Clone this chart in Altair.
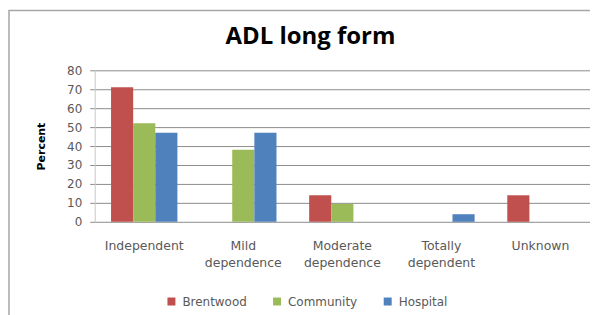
import altair as alt
import pandas as pd

categories = ["Independent", "Mild dependence", "Moderate dependence", "Totally dependent", "Unknown"]
series = ["Brentwood", "Community", "Hospital"]
brentwood = [71, 0, 14, 0, 14]
community = [52, 38, 9.5, 0, 0]
hospital = [47, 47, 0, 4, 0]
y_ticks = [0, 10, 20, 30, 40, 50, 60, 70, 80]
colors = ["#C0504D", "#9BBB59", "#4F81BD"]

rows = []
for s, vals in zip(series, [brentwood, community, hospital]):
    for c, v in zip(categories, vals):
        rows.append({"category": c, "series": s, "value": v})
df = pd.DataFrame(rows)

label_expr = "indexof(datum.label, ' ') > 0 ? split(datum.label, ' ') : datum.label"

bars = alt.Chart(df).mark_bar().encode(
    x=alt.X("category:N", sort=categories, title=None,
            scale=alt.Scale(paddingInner=0.33, paddingOuter=0.165),
            axis=alt.Axis(labelAngle=0, ticks=False, domain=False, labelPadding=18,
                          labelExpr=label_expr, labelFont="DejaVu Sans", labelFontSize=12.5,
                          labelColor="#595959", labelLineHeight=17)),
    xOffset=alt.XOffset("series:N", sort=series),
    y=alt.Y("value:Q", scale=alt.Scale(domain=[0, 80], nice=False),
            axis=alt.Axis(values=y_ticks, title="Percent", titleFont="DejaVu Sans",
                          titleFontSize=11, titleFontWeight="bold", titleColor="#000000",
                          titleX=-53, titleY=76, titleAlign="center", titleBaseline="middle",
                          labelFont="DejaVu Sans", labelFontSize=12, labelColor="#595959",
                          labelPadding=8, tickSize=5, tickColor="#8c8c8c",
                          domainColor="#c8c8c8", gridColor="#8c8c8c", gridWidth=1)),
    color=alt.Color("series:N", sort=series,
                    scale=alt.Scale(domain=series, range=colors),
                    legend=alt.Legend(title=None, orient="none", direction="horizontal",
                                      legendX=71, legendY=226, symbolType="square",
                                      symbolSize=64, symbolStrokeWidth=0,
                                      labelFont="DejaVu Sans", labelFontSize=12,
                                      labelColor="#595959", columnPadding=24,
                                      symbolOffset=0, labelOffset=5)),
)

border = alt.Chart(alt.Data(values=[{}])).mark_rect(
    fill=None, stroke="#a6a6a6", strokeWidth=1.5
).encode(x=alt.value(-86), x2=alt.value(700), y=alt.value(-60), y2=alt.value(400))

chart = alt.layer(border, bars).properties(
    width=497, height=152,
    padding={"left": 87, "top": 62, "right": 0, "bottom": 93},
    autosize=alt.AutoSizeParams(type="none"),
    title=alt.TitleParams("ADL long form", font="Open Sans", fontSize=24, fontWeight="bold",
                          color="#000000", anchor="middle", dx=-32, offset=0, dy=58,
                          frame="group", baseline="alphabetic"),
).configure_view(stroke=None)

chart.save("out.html", embed_options={"renderer": "svg", "actions": False})
